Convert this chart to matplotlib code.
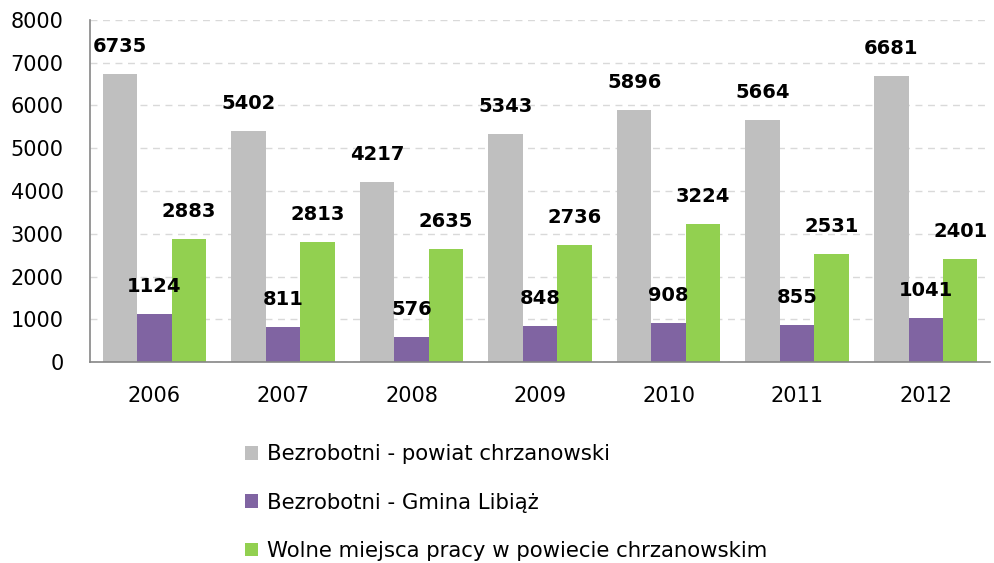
import matplotlib.pyplot as plt
import numpy as np

years = ['2006', '2007', '2008', '2009', '2010', '2011', '2012']
powiat = [6735, 5402, 4217, 5343, 5896, 5664, 6681]
libiaz = [1124, 811, 576, 848, 908, 855, 1041]
wolne = [2883, 2813, 2635, 2736, 3224, 2531, 2401]
labels = ['Bezrobotni - powiat chrzanowski', 'Bezrobotni - Gmina Libiąż',
          'Wolne miejsca pracy w powiecie chrzanowskim']
colors = ['#BFBFBF', '#8064A2', '#92D050']

fig = plt.figure(figsize=(9.95, 5.63), dpi=100)
ax = fig.add_axes([0.0905, 0.357, 0.9045, 0.6075])

x = np.arange(len(years))
w = 0.268
series = [powiat, libiaz, wolne]
for i, vals in enumerate(series):
    pos = x + (i - 1) * w
    ax.bar(pos, vals, width=w, color=colors[i], label=labels[i], zorder=2)
    for p, v in zip(pos, vals):
        ax.annotate(str(v), (p, v), xytext=(0, 18), textcoords='offset pixels',
                    ha='center', va='bottom', fontsize=14, fontweight='bold', zorder=3)

ax.set_xlim(-0.5, len(years) - 0.5)
ax.set_ylim(0, 8000)
ax.set_yticks(range(0, 8001, 1000))
ax.set_xticks(x)
ax.set_xticklabels(years)
ax.tick_params(length=0, labelsize=15)
ax.tick_params(axis='y', pad=19)
ax.tick_params(axis='x', pad=17)
ax.grid(axis='y', linestyle=(0, (5, 4)), color='#D9D9D9', linewidth=1, zorder=0)
for s in ['top', 'right']:
    ax.spines[s].set_visible(False)
for s in ['left', 'bottom']:
    ax.spines[s].set_color('#868686')
    ax.spines[s].set_linewidth(1.2)

fig.legend(loc='upper left', bbox_to_anchor=(0.238, 0.226), frameon=False,
           fontsize=15.3, handlelength=0.6, handleheight=0.6, handletextpad=0.42,
           labelspacing=1.33, borderaxespad=0)

plt.savefig('out.png', dpi=100)
